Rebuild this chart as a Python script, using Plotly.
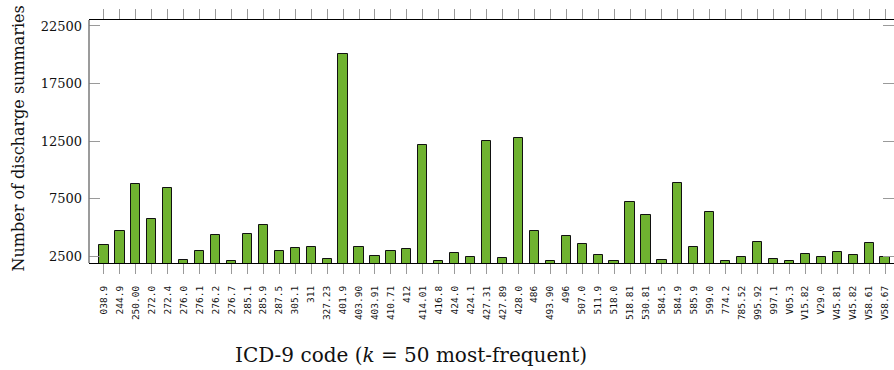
import plotly.graph_objects as go

# ICD-9 codes (50 most frequent) and number of discharge summaries per code
codes = [
    "038.9", "244.9", "250.00", "272.0", "272.4", "276.0", "276.1", "276.2", "276.7", "285.1",
    "285.9", "287.5", "305.1", "311", "327.23", "401.9", "403.90", "403.91", "410.71", "412",
    "414.01", "416.8", "424.0", "424.1", "427.31", "427.89", "428.0", "486", "493.90", "496",
    "507.0", "511.9", "518.0", "518.81", "530.81", "584.5", "584.9", "585.9", "599.0", "774.2",
    "785.52", "995.92", "997.1", "V05.3", "V15.82", "V29.0", "V45.81", "V45.82", "V58.61", "V58.67",
]
counts = [
    3520, 4750, 8770, 5740, 8450, 2200, 2940, 4320, 2080, 4440,
    5250, 2970, 3230, 3320, 2280, 20100, 3320, 2500, 2970, 3150,
    12170, 2110, 2820, 2450, 12540, 2370, 12800, 4700, 2110, 4270,
    3540, 2650, 2110, 7210, 6110, 2220, 8850, 3320, 6400, 2130,
    2450, 3780, 2280, 2110, 2680, 2450, 2890, 2630, 3660, 2450,
]
y_ticks = [2500, 7500, 12500, 17500, 22500]

W, H = 894, 370
ML, MT, MB, MR = 89, 20, 107, 0
plot_w = W - ML - MR
plot_h = H - MT - MB

fig = go.Figure()
fig.add_trace(go.Bar(
    x=codes,
    y=counts,
    width=0.58,
    marker=dict(color="#6fb230", line=dict(color="#111111", width=1)),
))

fig.update_layout(
    width=W,
    height=H,
    margin=dict(l=ML, r=MR, t=MT, b=MB, pad=0),
    paper_bgcolor="white",
    plot_bgcolor="white",
    showlegend=False,
    bargap=0,
    xaxis=dict(
        type="category",
        range=[-0.94, 49.56],
        showgrid=False,
        zeroline=False,
        showline=True,
        linecolor="#000000",
        linewidth=1,
        mirror="allticks",
        ticks="outside",
        ticklen=10,
        tickwidth=1,
        tickcolor="#9a9a9a",
        tickangle=-90,
        ticklabelstandoff=8,
        tickfont=dict(family="DejaVu Sans Mono", size=9.5, color="#111111"),
    ),
    yaxis=dict(
        range=[1930, 23020],
        tickvals=y_ticks,
        ticktext=[str(v) for v in y_ticks],
        showgrid=False,
        zeroline=False,
        showline=False,
        mirror="ticks",
        ticks="inside",
        ticklen=11,
        tickwidth=1,
        tickcolor="#9a9a9a",
        ticklabelstandoff=6,
        tickfont=dict(family="DejaVu Serif", size=13, color="#111111"),
    ),
    annotations=[
        dict(
            text="ICD-9 code (<i>k</i> = 50 most-frequent)",
            xref="paper", yref="paper",
            x=(411 - ML) / plot_w, y=-(355 - (MT + plot_h)) / plot_h,
            xanchor="center", yanchor="middle",
            showarrow=False,
            font=dict(family="DejaVu Serif", size=20, color="#111111"),
        ),
        dict(
            text="Number of discharge summaries",
            xref="paper", yref="paper",
            x=(17.5 - ML) / plot_w, y=((MT + plot_h) - 139) / plot_h,
            xanchor="center", yanchor="middle",
            textangle=-90,
            showarrow=False,
            font=dict(family="DejaVu Serif", size=16, color="#111111"),
        ),
    ],
    shapes=[
        # left axis line in grey, drawn on its own so no line sits on the right edge
        dict(type="line", xref="paper", yref="paper", x0=0, x1=0, y0=0, y1=1,
             line=dict(color="#7a7a7a", width=1.5)),
    ],
)

fig.write_html("out.html")
